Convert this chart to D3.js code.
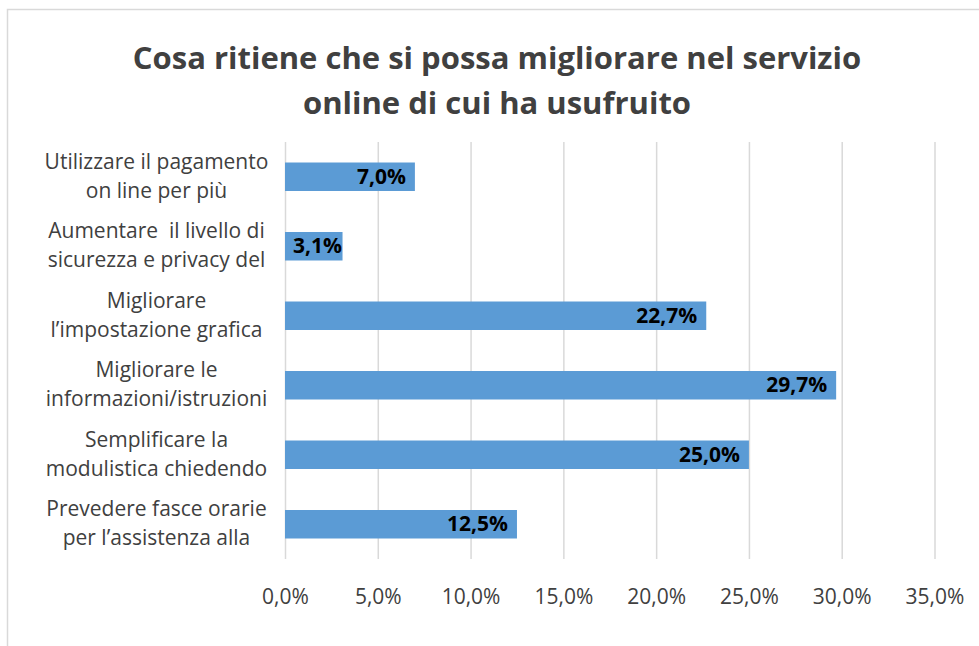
<!DOCTYPE html>
<html>
<head>
<meta charset="utf-8">
<script src="https://cdn.jsdelivr.net/npm/d3@7"></script>
<style>
  body { margin: 0; background: #fff; }
  svg { display: block; }
</style>
</head>
<body>
<div id="chart"></div>
<script>
// data
const titleLines = ["Cosa ritiene che si possa migliorare nel servizio", "online di cui ha usufruito"];
const categories = [
    ["Utilizzare il pagamento", "on line per più"],
    ["Aumentare  il livello di", "sicurezza e privacy del"],
    ["Migliorare", "l\u2019impostazione grafica"],
    ["Migliorare le", "informazioni/istruzioni"],
    ["Semplificare la", "modulistica chiedendo"],
    ["Prevedere fasce orarie", "per l\u2019assistenza alla"]
];
const values = [0.070, 0.031, 0.227, 0.297, 0.250, 0.125];
const xTicks = [0, 0.05, 0.10, 0.15, 0.20, 0.25, 0.30, 0.35];

const width = 979, height = 646;
const margin = { top: 142, right: 44.5, bottom: 87, left: 285 };
const fontFamily = "'Open Sans', Lato, sans-serif";
const textColor = "#404040";

const it = d3.formatLocale({ decimal: ",", thousands: ".", grouping: [3], currency: ["", "€"], percent: "%" });
const pct = it.format(".1%");

const svg = d3.select("#chart")
    .append("svg")
    .attr("width", width)
    .attr("height", height);

svg.append("rect")
    .attr("width", width)
    .attr("height", height)
    .attr("fill", "#fff");

// chart border (runs off the right and bottom edges)
svg.append("rect")
    .attr("x", 7.5)
    .attr("y", 9.5)
    .attr("width", width + 20)
    .attr("height", height + 20)
    .attr("fill", "none")
    .attr("stroke", "#d9d9d9")
    .attr("stroke-width", 1.5);

// scales
const x = d3.scaleLinear()
    .domain([0, 0.35])
    .range([margin.left, width - margin.right]);

const y = d3.scaleBand()
    .domain(d3.range(categories.length))
    .range([margin.top, height - margin.bottom])
    .paddingInner(0.59)
    .paddingOuter(0.295);

// title
svg.append("text")
    .attr("text-anchor", "middle")
    .attr("font-family", fontFamily)
    .attr("font-weight", "bold")
    .attr("font-size", 31)
    .attr("fill", textColor)
    .selectAll("tspan")
    .data(titleLines)
    .join("tspan")
    .attr("x", 497)
    .attr("y", (d, i) => 69 + i * 45)
    .text(d => d);

// gridlines + tick labels
const xAxis = svg.append("g")
    .attr("transform", `translate(0,${height - margin.bottom})`)
    .call(d3.axisBottom(x)
        .tickValues(xTicks)
        .tickSize(-(height - margin.top - margin.bottom))
        .tickPadding(30)
        .tickFormat(pct));

xAxis.select(".domain").remove();
xAxis.selectAll(".tick line")
    .attr("stroke", "#d9d9d9")
    .attr("stroke-width", 1.5);
xAxis.selectAll(".tick text")
    .attr("font-family", fontFamily)
    .attr("font-size", 21)
    .attr("fill", textColor);

// bars
svg.append("g")
    .selectAll("rect")
    .data(values)
    .join("rect")
    .attr("x", x(0))
    .attr("y", (d, i) => y(i))
    .attr("width", d => x(d) - x(0))
    .attr("height", y.bandwidth())
    .attr("fill", "#5b9bd5");

// data labels (inside end)
svg.append("g")
    .selectAll("text")
    .data(values)
    .join("text")
    .attr("font-family", fontFamily)
    .attr("font-weight", "bold")
    .attr("font-size", 21)
    .attr("fill", "#000")
    .attr("text-anchor", "end")
    .attr("y", (d, i) => y(i) + y.bandwidth() / 2 + 7)
    .text(d => pct(d))
    .attr("x", function (d) {
        let w = this.getComputedTextLength();
        return Math.max(x(d) - 9, x(0) + w + 8);
    });

// category labels
const catLabels = svg.append("g")
    .selectAll("text")
    .data(categories)
    .join("text")
    .attr("font-family", fontFamily)
    .attr("font-size", 21)
    .attr("fill", textColor)
    .attr("text-anchor", "middle");

catLabels.selectAll("tspan")
    .data((d, i) => d.map(t => ({ t, i })))
    .join("tspan")
    .attr("x", 156.5)
    .attr("y", (d, j) => y(d.i) + y.bandwidth() / 2 + (j === 0 ? -8 : 21))
    .attr("xml:space", "preserve")
    .style("white-space", "pre")
    .text(d => d.t);
</script>
</body>
</html>
